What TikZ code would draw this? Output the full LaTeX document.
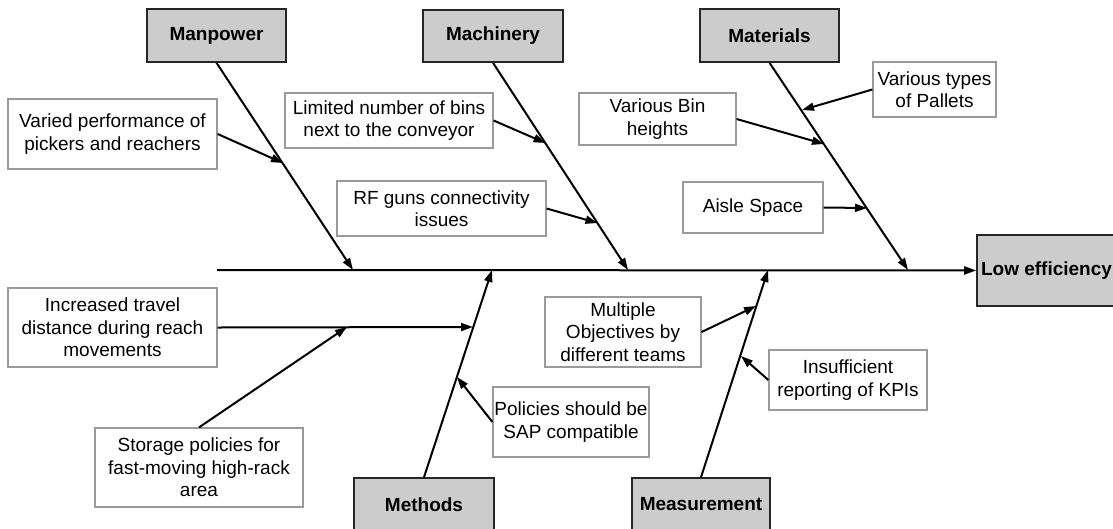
\documentclass[tikz,border=0pt]{standalone}
\usepackage{fontspec}
\setmainfont{Liberation Sans}
\usepackage{tikz}
\usetikzlibrary{graphs}
\usetikzlibrary{arrows.meta}
\definecolor{boxgray}{HTML}{CCCCCC}
\definecolor{rimgray}{HTML}{9A9A9A}

\begin{document}
\begin{tikzpicture}[x=1pt, y=-1pt,
        font=\fontsize{19}{22.5}\selectfont,
        >={Triangle[length=12pt,width=8pt]},
        cat/.style={draw=black!85, line width=1.6pt, fill=boxgray, inner sep=0pt,
            font=\fontsize{19}{22.5}\selectfont\bfseries},
        cause/.style={draw=rimgray, line width=1.2pt, fill=white, align=center, inner sep=0pt},
        bone/.style={line width=2pt}]
            \useasboundingbox (0,0) rectangle (1113,528);

            \node[cat, minimum width=139, minimum height=53] (manpower) at (216.5, 35.5) {Manpower};
            \node[cat, minimum width=140, minimum height=52] (machinery) at (493.0, 36.0) {Machinery};
            \node[cat, minimum width=139, minimum height=53] (materials) at (769.5, 35.5) {Materials};
            \node[cat, minimum width=140, minimum height=53] (methods) at (424.0, 504.5) {Methods};
            \node[cat, minimum width=138, minimum height=53] (measurement) at (701.0, 504.5) {Measurement};
            \node[cat, minimum width=139, minimum height=71] (loweff) at (1046.5, 270.5) {Low efficiency};

            \node[cause, minimum width=209, minimum height=70] (varied) at (112.5, 134.0) {Varied performance of\\pickers and reachers};
            \node[cause, minimum width=208, minimum height=55] (limited) at (389.0, 120.5) {Limited number of bins\\next to the conveyor};
            \node[cause, minimum width=209, minimum height=55] (rfguns) at (441.5, 208.5) {RF guns connectivity\\issues};
            \node[cause, minimum width=157, minimum height=52] (binheights) at (657.5, 119.0) {Various Bin\\heights};
            \node[cause, minimum width=123, minimum height=55] (pallets) at (934.5, 89.5) {Various types\\of Pallets};
            \node[cause, minimum width=140, minimum height=51] (aisle) at (753.0, 207.5) {Aisle Space};
            \node[cause, minimum width=209, minimum height=79] (travel) at (112.5, 327.5) {Increased travel\\distance during reach\\movements};
            \node[cause, minimum width=208, minimum height=79] (storage) at (199.0, 467.5) {Storage policies for\\fast-moving high-rack\\area};
            \node[cause, minimum width=156, minimum height=70] (sapcomp) at (571.0, 422.0) {Policies should be\\SAP compatible};
            \node[cause, minimum width=156, minimum height=70] (objectives) at (623.0, 332.0) {Multiple\\Objectives by\\different teams};
            \node[cause, minimum width=158, minimum height=60] (kpis) at (848.0, 380.0) {Insufficient\\reporting of KPIs};

            \coordinate (spine) at (217, 270);
            \coordinate (mp) at (353, 270);
            \coordinate (mc) at (628, 270);
            \coordinate (mt) at (908, 270);
            \coordinate (md) at (492, 270);
            \coordinate (ms) at (768, 270);
            \coordinate (mp1) at (283, 163);
            \coordinate (mc1) at (545.5, 143);
            \coordinate (mc2) at (597.5, 223);
            \coordinate (mt1) at (802, 110);
            \coordinate (mt2) at (824, 144);
            \coordinate (mt3) at (867, 208);
            \coordinate (md1) at (473, 327);
            \coordinate (md2) at (457, 377);
            \coordinate (ms1) at (756, 306);
            \coordinate (ms2) at (741, 356);
            \coordinate (tr1) at (347, 327);

            \graph {(spine) ->[bone] (loweff)};
            \graph {(manpower.south) ->[bone] (mp)};
            \graph {(machinery.south) ->[bone] (mc)};
            \graph {(materials.south) ->[bone] (mt)};
            \graph {(methods.north) ->[bone] (md)};
            \graph {(measurement.north) ->[bone] (ms)};
            \graph {(varied.east) ->[bone] (mp1)};
            \graph {(limited.east) ->[bone] (mc1)};
            \graph {(rfguns.east) ->[bone] (mc2)};
            \graph {(pallets.west) ->[bone] (mt1)};
            \graph {(binheights.east) ->[bone] (mt2)};
            \graph {(aisle.east) ->[bone] (mt3)};
            \graph {(travel.east) ->[bone] (md1)};
            \graph {(storage.north) ->[bone] (tr1)};
            \graph {(sapcomp.west) ->[bone] (md2)};
            \graph {(objectives.east) ->[bone] (ms1)};
            \graph {(kpis.west) ->[bone] (ms2)};
        \end{tikzpicture}
\end{document}
